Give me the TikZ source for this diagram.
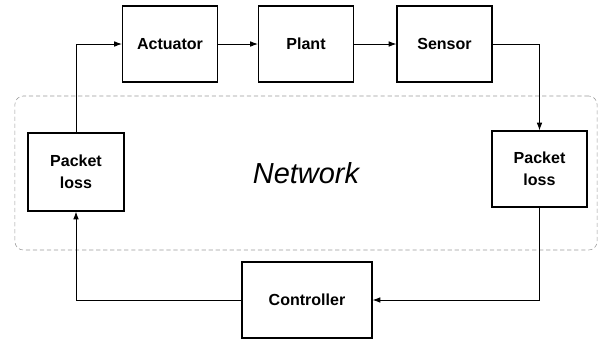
\documentclass[tikz,border=0pt]{standalone}
\usepackage{fontspec}
\setmainfont{Liberation Sans}
\usetikzlibrary{arrows.meta}
\tikzset{
	% Boxes of the loop and the dashed network region
	block node/.style={rectangle,draw,line width=0.8pt,minimum width=2.375cm,minimum height=1.9cm,
		align=center,font=\bfseries\fontsize{11.4}{15.6}\selectfont},
	net node/.style={rectangle,draw=gray!80,rounded corners=6pt,dash pattern=on 3pt off 2pt,
		minimum width=14.55cm,minimum height=3.85cm,font=\itshape\fontsize{20.6}{24}\selectfont}
}

\begin{document}
\begin{tikzpicture}[x=0.025cm,y=-0.025cm,>={Latex[length=5.5pt,width=4pt]}]
\useasboundingbox (0,0) rectangle (601,344);

% network region
\node[net node] (net) at (306,173) {Network};

% plant loop (top row)
\node[block node] (act) at (170,44) {Actuator};
\node[block node] (plant) at (306,44) {Plant};
\node[block node] (sensor) at (444.5,44) {Sensor};

% packet loss on both links
\node[block node, minimum width=2.4cm, minimum height=1.95cm] (lossL) at (76,172) {Packet\\loss};
\node[block node] (lossR) at (539.5,169) {Packet\\loss};

% controller
\node[block node, minimum width=3.25cm] (ctrl) at (307,300) {Controller};

\path[->, line width=0.6pt] (act) edge (plant)
          (plant) edge (sensor);
\draw[->, line width=0.6pt] (sensor) -| (lossR);
\draw[->, line width=0.6pt] (lossR) |- (ctrl);
\draw[->, line width=0.6pt] (ctrl) -| (lossL);
\draw[->, line width=0.6pt] (lossL) |- (act);

\end{tikzpicture}
\end{document}
